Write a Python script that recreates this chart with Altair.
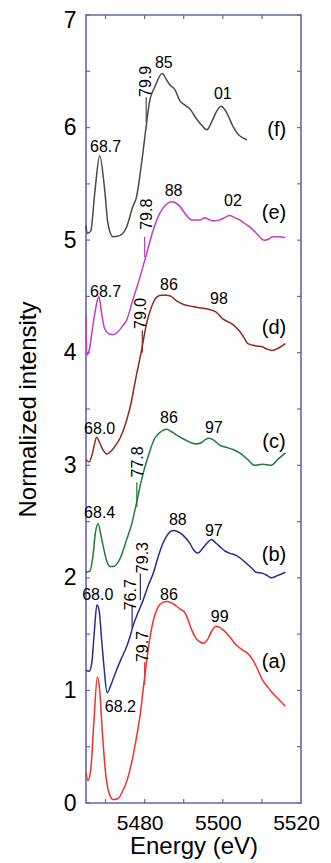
import altair as alt
import pandas as pd

FONT = "Liberation Sans"

# ---------------- data ----------------
energy_a = [5465.0, 5465.5, 5466.2, 5467.0, 5467.9, 5468.5, 5469.2, 5470.0, 5470.8, 5472.0,
            5473.2, 5474.3, 5475.4, 5476.2, 5477.0, 5477.9, 5478.8, 5479.8, 5480.9, 5482.2,
            5483.4, 5484.5, 5485.6, 5486.8, 5488.1, 5489.2, 5490.3, 5491.2, 5492.0, 5493.2,
            5494.2, 5495.1, 5496.2, 5497.2, 5498.3, 5499.2, 5500.0, 5501.7, 5503.0, 5503.9,
            5505.0, 5506.0, 5507.7, 5509.0, 5510.2, 5511.3, 5512.4, 5514.0, 5516.0]
intensity_a = [0.27, 0.20, 0.29, 0.71, 1.12, 1.00, 0.62, 0.27, 0.10, 0.03,
               0.04, 0.10, 0.19, 0.29, 0.41, 0.58, 0.77, 1.06, 1.36, 1.62,
               1.74, 1.78, 1.79, 1.78, 1.75, 1.72, 1.69, 1.62, 1.54, 1.46,
               1.43, 1.42, 1.46, 1.53, 1.57, 1.56, 1.54, 1.48, 1.42, 1.39,
               1.36, 1.34, 1.27, 1.18, 1.09, 1.04, 0.99, 0.93, 0.86]

energy_b = [5465.0, 5465.8, 5466.5, 5467.1, 5467.8, 5468.4, 5469.0, 5469.6, 5470.4, 5471.5,
            5472.8, 5474.0, 5475.4, 5476.2, 5477.0, 5478.3, 5479.6, 5480.9, 5482.2, 5483.4,
            5484.7, 5486.0, 5487.3, 5488.5, 5489.8, 5491.5, 5492.5, 5493.6, 5494.8, 5496.0,
            5497.1, 5498.2, 5499.2, 5500.5, 5501.7, 5503.4, 5504.7, 5506.0, 5507.3, 5508.5,
            5510.2, 5511.4, 5512.4, 5514.0, 5516.0]
intensity_b = [1.18, 1.17, 1.25, 1.51, 1.76, 1.70, 1.45, 1.21, 0.98, 1.06,
               1.18, 1.28, 1.39, 1.47, 1.57, 1.69, 1.80, 1.93, 2.04, 2.18,
               2.31, 2.39, 2.42, 2.41, 2.38, 2.31, 2.25, 2.22, 2.26, 2.31,
               2.34, 2.31, 2.28, 2.24, 2.22, 2.20, 2.17, 2.13, 2.09, 2.05,
               2.04, 2.02, 2.00, 2.02, 2.05]

energy_c = [5465.0, 5466.0, 5466.8, 5467.4, 5468.1, 5468.8, 5469.4, 5470.3, 5471.2, 5472.0,
            5473.7, 5475.4, 5476.7, 5477.9, 5479.2, 5480.9, 5482.6, 5484.2, 5485.6, 5486.8,
            5488.1, 5490.7, 5492.0, 5493.2, 5494.5, 5495.6, 5496.6, 5497.8, 5499.2, 5500.8,
            5502.6, 5504.3, 5506.4, 5508.1, 5510.2, 5512.4, 5514.0, 5516.0]
intensity_c = [2.05, 2.06, 2.20, 2.40, 2.48, 2.38, 2.28, 2.15, 2.10, 2.10,
               2.17, 2.34, 2.48, 2.66, 2.87, 3.08, 3.24, 3.30, 3.32, 3.30,
               3.27, 3.22, 3.20, 3.19, 3.20, 3.23, 3.24, 3.22, 3.18, 3.16,
               3.14, 3.11, 3.05, 3.00, 3.01, 3.00, 3.05, 3.11]

energy_d = [5465.0, 5465.8, 5466.6, 5467.0, 5467.7, 5468.5, 5469.3, 5470.3, 5471.2, 5472.0,
            5473.7, 5475.4, 5476.7, 5477.5, 5479.2, 5480.5, 5481.8, 5483.0, 5484.2, 5485.5,
            5486.8, 5488.2, 5489.8, 5492.3, 5494.0, 5495.8, 5497.0, 5498.3, 5500.0, 5502.6,
            5504.3, 5505.5, 5506.4, 5508.5, 5510.2, 5511.5, 5512.6, 5514.2, 5516.0]
intensity_d = [3.05, 3.03, 3.10, 3.16, 3.25, 3.20, 3.14, 3.10, 3.12, 3.15,
               3.24, 3.40, 3.58, 3.73, 4.02, 4.26, 4.41, 4.49, 4.51, 4.51,
               4.50, 4.46, 4.43, 4.41, 4.40, 4.39, 4.38, 4.36, 4.30, 4.25,
               4.19, 4.13, 4.08, 4.06, 4.05, 4.03, 4.02, 4.04, 4.08]

energy_e = [5465.0, 5465.2, 5465.8, 5466.6, 5467.4, 5468.3, 5469.0, 5469.7, 5470.8, 5471.8,
            5473.0, 5474.2, 5475.4, 5477.0, 5478.8, 5480.5, 5482.2, 5483.9, 5485.3, 5486.9,
            5488.0, 5489.0, 5490.7, 5492.0, 5493.2, 5494.1, 5495.4, 5496.6, 5497.8, 5499.2,
            5500.5, 5501.7, 5503.0, 5504.3, 5505.5, 5506.8, 5508.9, 5510.0, 5510.7, 5511.8,
            5512.8, 5514.5, 5516.0]
intensity_e = [4.32, 3.98, 4.02, 4.20, 4.38, 4.50, 4.35, 4.22, 4.17, 4.16,
               4.18, 4.23, 4.29, 4.47, 4.67, 4.88, 5.09, 5.24, 5.31, 5.34,
               5.33, 5.30, 5.22, 5.18, 5.18, 5.18, 5.20, 5.18, 5.17, 5.18,
               5.20, 5.22, 5.20, 5.18, 5.15, 5.12, 5.05, 5.01, 5.00, 5.01,
               5.03, 5.03, 5.02]

energy_f = [5465.0, 5465.3, 5466.2, 5467.3, 5468.5, 5469.8, 5470.6, 5471.9, 5473.6, 5475.3,
            5477.0, 5477.9, 5479.2, 5480.5, 5481.3, 5482.6, 5484.5, 5485.5, 5486.4, 5487.7,
            5489.0, 5490.3, 5491.5, 5493.2, 5494.6, 5495.9, 5497.4, 5498.5, 5499.6, 5500.5,
            5501.3, 5502.6, 5503.9, 5505.0, 5506.2]
intensity_f = [5.13, 5.06, 5.08, 5.44, 5.75, 5.44, 5.15, 5.03, 5.04, 5.11,
               5.30, 5.38, 5.68, 6.04, 6.24, 6.36, 6.48, 6.43, 6.38, 6.34,
               6.24, 6.20, 6.17, 6.08, 6.02, 5.98, 6.07, 6.15, 6.19, 6.16,
               6.11, 6.01, 5.94, 5.91, 5.89]

series_names = ["(a)", "(b)", "(c)", "(d)", "(e)", "(f)"]
series_colors = ["#f2302c", "#2c2c8c", "#1f7a3c", "#8c2a22", "#c43cc4", "#4a4a4a"]
series_energy = [energy_a, energy_b, energy_c, energy_d, energy_e, energy_f]
series_intensity = [intensity_a, intensity_b, intensity_c, intensity_d, intensity_e, intensity_f]

# series label positions
label_energy = [5513.1, 5513.1, 5513.1, 5513.1, 5513.1, 5513.8]
label_intensity = [1.25, 2.20, 3.21, 4.22, 5.24, 5.98]

# horizontal peak annotations
note_text = ["85", "01", "68.7", "88", "02", "68.7", "86", "98", "68.0", "86", "97",
             "68.4", "88", "97", "68.0", "68.2", "86", "99"]
note_energy = [5484.9, 5500.0, 5470.0, 5487.4, 5502.6, 5470.0, 5486.2, 5499.0, 5468.5, 5486.2,
               5497.7, 5468.5, 5488.5, 5497.7, 5468.0, 5473.8, 5486.2, 5499.2]
note_intensity = [6.57, 6.30, 5.83, 5.44, 5.35, 4.54, 4.60, 4.48, 3.32, 3.42, 3.33,
                  2.58, 2.51, 2.42, 1.85, 0.85, 1.85, 1.65]

# rotated edge annotations
edge_text = ["79.9", "79.8", "79.0", "77.8", "79.3", "76.7", "79.7"]
edge_energy = [5480.3, 5480.5, 5479.0, 5478.2, 5479.7, 5476.4, 5479.7]
edge_intensity = [6.41, 5.23, 4.35, 3.03, 2.18, 1.85, 1.39]

# short marker lines under the edge annotations
marker_series = ["(f)", "(e)", "(d)", "(c)", "(b)", "(b)", "(a)"]
marker_energy = [5480.4, 5480.0, 5479.4, 5478.0, 5478.9, 5476.8, 5480.0]
marker_top = [6.27, 5.03, 4.20, 2.85, 2.04, 1.76, 1.25]
marker_bottom = [6.05, 4.85, 4.00, 2.63, 1.80, 1.56, 1.05]

y_tick_values = [0, 0.5, 1, 1.5, 2, 2.5, 3, 3.5, 4, 4.5, 5, 5.5, 6, 6.5, 7]
x_tick_values = [5470, 5480, 5490, 5500, 5510]
y_label_values = [0, 1, 2, 3, 4, 5, 6, 7]
x_label_values = [5480, 5500, 5520]

# ---------------- tables ----------------
rows = []
for name, es, vs in zip(series_names, series_energy, series_intensity):
    for e, v in zip(es, vs):
        rows.append({"series": name, "energy": e, "intensity": v})
curves = pd.DataFrame(rows)

labels_df = pd.DataFrame({"series": series_names, "energy": label_energy, "intensity": label_intensity})
notes_df = pd.DataFrame({"text": note_text, "energy": note_energy, "intensity": note_intensity})
edges_df = pd.DataFrame({"text": edge_text, "energy": edge_energy, "intensity": edge_intensity})
markers_df = pd.DataFrame({"series": marker_series, "energy": marker_energy,
                           "intensity": marker_top, "intensity2": marker_bottom})
yt_df = pd.DataFrame({"intensity": y_tick_values})
xt_df = pd.DataFrame({"energy": x_tick_values})

W, H = 215, 788
FRAME = "#6464b4"

x_scale = alt.Scale(domain=[5465, 5520], nice=False, zero=False)
y_scale = alt.Scale(domain=[0, 7], nice=False, zero=False)
color_scale = alt.Scale(domain=series_names, range=series_colors)

x_axis = alt.Axis(values=x_label_values, format="d", title="Energy (eV)", labelFontSize=21,
                  titleFontSize=24, labelFont=FONT, titleFont=FONT, labelColor="black",
                  titleColor="black", labelPadding=9, titlePadding=1, labelOffset=-5,
                  titleFontWeight="normal", labelFlush=False)
y_axis = alt.Axis(values=y_label_values, format="d", title="Normalized intensity", labelFontSize=23,
                  titleFontSize=24, labelFont=FONT, titleFont=FONT, labelColor="black",
                  titleColor="black", labelPadding=10, titlePadding=23, titleFontWeight="normal",
                  labelFlush=False,
                  labelOffset={"condition": {"test": "datum.value == 7", "value": 5}, "value": 0})

lines = alt.Chart(curves).mark_line(strokeWidth=1.5, interpolate="monotone").encode(
    x=alt.X("energy:Q", scale=x_scale, axis=x_axis),
    y=alt.Y("intensity:Q", scale=y_scale, axis=y_axis),
    color=alt.Color("series:N", scale=color_scale, legend=None),
    detail="series:N",
)

markers = alt.Chart(markers_df).mark_rule(strokeWidth=1.2).encode(
    x=alt.X("energy:Q", scale=x_scale),
    y=alt.Y("intensity:Q", scale=y_scale),
    y2="intensity2:Q",
    color=alt.Color("series:N", scale=color_scale, legend=None),
)

notes = alt.Chart(notes_df).mark_text(font=FONT, fontSize=16, color="black").encode(
    x=alt.X("energy:Q", scale=x_scale),
    y=alt.Y("intensity:Q", scale=y_scale),
    text="text:N",
)

edges = alt.Chart(edges_df).mark_text(font=FONT, fontSize=16, color="black", angle=270).encode(
    x=alt.X("energy:Q", scale=x_scale),
    y=alt.Y("intensity:Q", scale=y_scale),
    text="text:N",
)

series_labels = alt.Chart(labels_df).mark_text(font=FONT, fontSize=20, color="black").encode(
    x=alt.X("energy:Q", scale=x_scale),
    y=alt.Y("intensity:Q", scale=y_scale),
    text="series:N",
)

ytl = alt.Chart(yt_df).mark_rule(color=FRAME, strokeWidth=1.2).encode(
    y=alt.Y("intensity:Q", scale=y_scale), x=alt.value(0), x2=alt.value(4))
ytr = alt.Chart(yt_df).mark_rule(color=FRAME, strokeWidth=1.2).encode(
    y=alt.Y("intensity:Q", scale=y_scale), x=alt.value(W - 4), x2=alt.value(W))
xtb = alt.Chart(xt_df).mark_rule(color=FRAME, strokeWidth=1.2).encode(
    x=alt.X("energy:Q", scale=x_scale), y=alt.value(H - 4), y2=alt.value(H))
xtt = alt.Chart(xt_df).mark_rule(color=FRAME, strokeWidth=1.2).encode(
    x=alt.X("energy:Q", scale=x_scale), y=alt.value(0), y2=alt.value(4))

chart = alt.layer(ytl, ytr, xtb, xtt, lines, markers, notes, edges, series_labels).properties(
    width=W, height=H,
    autosize=alt.AutoSizeParams(type="none"),
    padding={"left": 78, "top": 7, "right": 20, "bottom": 57},
).configure_view(
    stroke=FRAME, strokeWidth=1.6
).configure_axis(
    domain=False, ticks=False, grid=False
)

chart.save("out.html", embed_options={"renderer": "svg", "actions": False})
